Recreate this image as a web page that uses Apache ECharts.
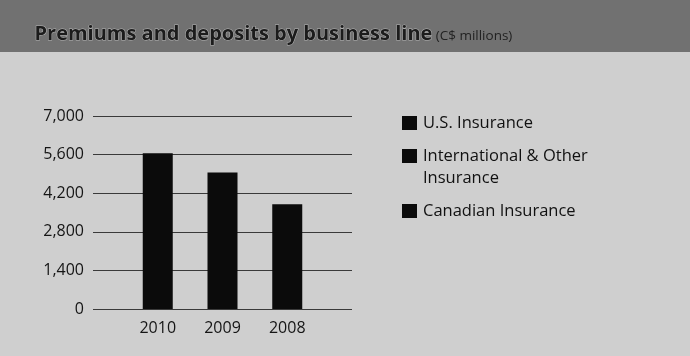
<!DOCTYPE html>
<html><head><meta charset="utf-8">
<script src="https://cdn.jsdelivr.net/npm/echarts@6/dist/echarts.min.js"></script>
<style>html,body{margin:0;padding:0;background:#cfcfcf;}#c{width:690px;height:356px;}</style>
</head><body><div id="c"></div>
<script>
const categories = ['', '2010', '2009', '2008', ''];
const totals = [null, 5650, 4950, 3800, null];
const yTicks = [0, 1400, 2800, 4200, 5600, 7000];
const legendNames = ['U.S. Insurance', 'International & Other Insurance', 'Canadian Insurance'];
const titleText = 'Premiums and deposits by business line';
const unitText = '(C$ millions)';

const FONT = '"Open Sans", "Noto Sans", sans-serif';
const chart = echarts.init(document.getElementById('c'), null, {renderer: 'canvas'});

function mkLegend(name, top, fmt) {
  return {
    show: true, orient: 'vertical', left: 402, top: top, padding: 0,
    itemWidth: 15, itemHeight: 14, itemGap: 0,
    icon: 'rect', data: [name], selectedMode: false,
    formatter: fmt || '{name}',
    textStyle: {fontFamily: FONT, fontSize: 16.5, color: '#111', lineHeight: 22, padding: [0, 0, 0, 1]}
  };
}

chart.setOption({
  backgroundColor: '#cfcfcf',
  animation: false,
  graphic: [
    {type: 'rect', shape: {x: 0, y: 0, width: 690, height: 52}, style: {fill: '#717171'}, z: -1},
    {type: 'text', left: 34, top: 24, style: {
      text: '{a|' + titleText + '} {b|' + unitText + '}',
      rich: {
        a: {fontFamily: FONT, fontSize: 20, fontWeight: 'bold', fill: '#1c1c1c',
            stroke: '#b5b5b5', lineWidth: 1},
        b: {fontFamily: FONT, fontSize: 13.5, fill: '#222222', padding: [4, 0, 0, 0]}
      }
    }}
  ],
  legend: [
    mkLegend(legendNames[0], 112),
    mkLegend(legendNames[1], 123, function () { return '\nInternational & Other\nInsurance'; }),
    mkLegend(legendNames[2], 200)
  ],
  grid: {left: 93, right: 338, top: 116, bottom: 47, containLabel: false},
  xAxis: {
    type: 'category', data: categories, boundaryGap: false,
    axisLine: {show: false}, axisTick: {show: false},
    axisLabel: {fontFamily: FONT, fontSize: 16, color: '#151515', margin: 11}
  },
  yAxis: {
    type: 'value', min: yTicks[0], max: yTicks[yTicks.length - 1], interval: yTicks[1] - yTicks[0],
    axisLine: {show: false}, axisTick: {show: false},
    axisLabel: {fontFamily: FONT, fontSize: 16, color: '#151515', margin: 9,
      formatter: v => v.toLocaleString('en-US')},
    splitLine: {lineStyle: {color: '#3a3a3a', width: 1}}
  },
  series: [
    {name: legendNames[0], type: 'bar', stack: 't', data: totals, barWidth: 30,
      itemStyle: {color: '#0b0b0b'}, z: 3},
    {name: legendNames[1], type: 'bar', stack: 't', data: [], itemStyle: {color: '#0b0b0b'}},
    {name: legendNames[2], type: 'bar', stack: 't', data: [], itemStyle: {color: '#0b0b0b'}}
  ]
});
</script></body></html>
